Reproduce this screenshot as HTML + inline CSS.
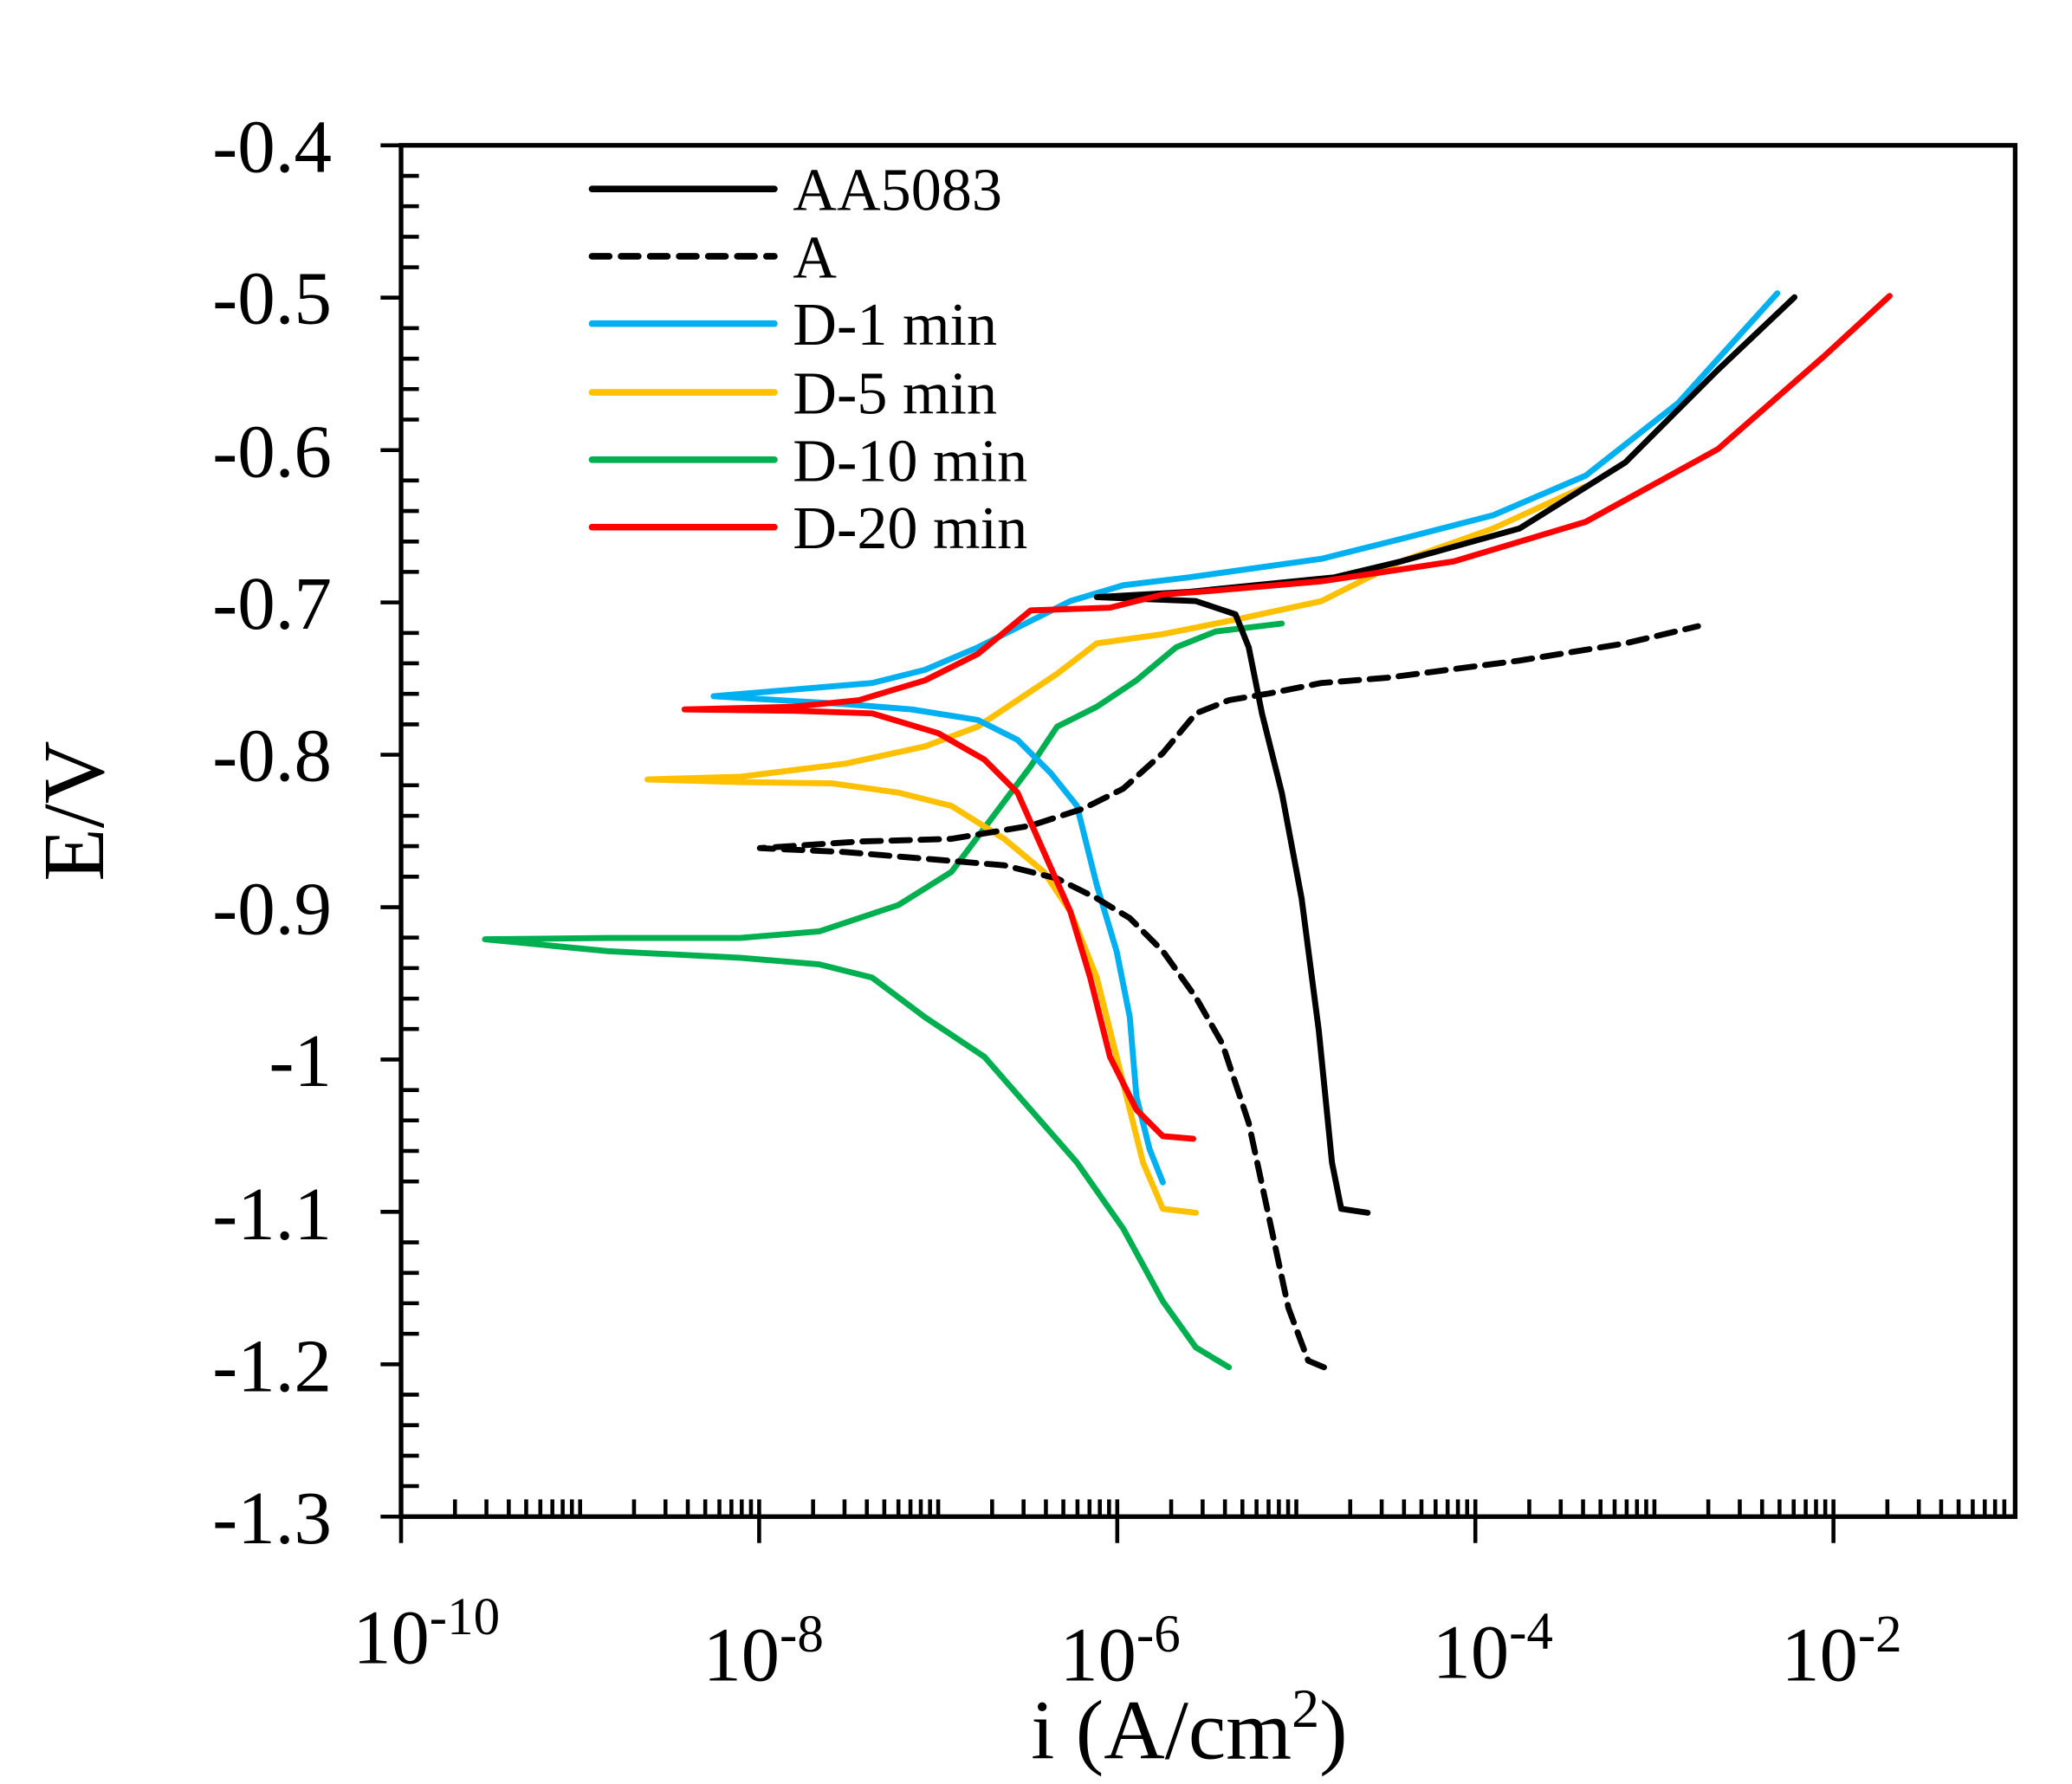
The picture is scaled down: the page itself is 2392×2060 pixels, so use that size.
<!DOCTYPE html>
<html><head><meta charset="utf-8"><style>
html,body{margin:0;padding:0;background:#fff;}
svg{display:block;}
text{font-family:"Liberation Serif",serif;fill:#000;}
</style></head><body>
<svg width="2392" height="2060" viewBox="0 0 1568 1350.4" xmlns="http://www.w3.org/2000/svg">
<rect x="0" y="0" width="1568" height="1351" fill="#fff"/>
<g stroke="#000" stroke-width="3">
<path d="M288 110H303M288 225.3H303M288 340.7H303M288 456H303M288 571.3H303M288 686.7H303M288 802H303M288 917.3H303M288 1032.7H303M288 1148H303"/>
<path d="M303 133.1H317M303 156.1H317M303 179.2H317M303 202.3H317M303 248.4H317M303 271.5H317M303 294.5H317M303 317.6H317M303 363.7H317M303 386.8H317M303 409.9H317M303 432.9H317M303 479.1H317M303 502.1H317M303 525.2H317M303 548.3H317M303 594.4H317M303 617.5H317M303 640.5H317M303 663.6H317M303 709.7H317M303 732.8H317M303 755.9H317M303 778.9H317M303 825.1H317M303 848.1H317M303 871.2H317M303 894.3H317M303 940.4H317M303 963.5H317M303 986.5H317M303 1009.6H317M303 1055.7H317M303 1078.8H317M303 1101.9H317M303 1124.9H317"/>
<path id="dec" d="M303.5 1135V1148M344.3 1135V1148M368.1 1135V1148M385 1135V1148M398.2 1135V1148M408.9 1135V1148M418 1135V1148M425.8 1135V1148M432.8 1135V1148"/>
<use href="#dec" x="135.5"/><use href="#dec" x="271"/><use href="#dec" x="406.5"/><use href="#dec" x="542"/>
<use href="#dec" x="677.5"/><use href="#dec" x="813"/><use href="#dec" x="948.5"/><use href="#dec" x="1084"/>
<path d="M303.5 1148V1168M574.5 1148V1168M845.5 1148V1168M1116.5 1148V1168M1387.5 1148V1168"/>
</g>
<rect x="303.5" y="110" width="1221.5" height="1038" fill="none" stroke="#000" stroke-width="3.5"/>
<g font-size="57" text-anchor="end">
<text x="251" y="130">-0.4</text>
<text x="251" y="245">-0.5</text>
<text x="251" y="361">-0.6</text>
<text x="251" y="476">-0.7</text>
<text x="251" y="591">-0.8</text>
<text x="251" y="707">-0.9</text>
<text x="251" y="822">-1</text>
<text x="251" y="938">-1.1</text>
<text x="251" y="1053">-1.2</text>
<text x="251" y="1168">-1.3</text>
</g>
<g font-size="58">
<text x="267" y="1259">10<tspan font-size="40" dy="-22">-10</tspan></text>
<text x="532" y="1272">10<tspan font-size="40" dy="-22">-8</tspan></text>
<text x="802" y="1272">10<tspan font-size="40" dy="-22">-6</tspan></text>
<text x="1084" y="1270">10<tspan font-size="40" dy="-22">-4</tspan></text>
<text x="1348" y="1272">10<tspan font-size="40" dy="-22">-2</tspan></text>
</g>
<text x="900" y="1331" font-size="64" text-anchor="middle">i (A/cm<tspan font-size="42" dy="-24">2</tspan><tspan dy="24">)</tspan></text>
<text transform="translate(78,614) rotate(-90)" font-size="66" text-anchor="middle">E/V</text>
<g stroke-width="5" stroke-linecap="round">
<line x1="448" y1="143" x2="586" y2="143" stroke="#000"/>
<line x1="448" y1="194" x2="586" y2="194" stroke="#000" stroke-dasharray="13,9"/>
<line x1="448" y1="245" x2="586" y2="245" stroke="#00b0f0"/>
<line x1="448" y1="297" x2="586" y2="297" stroke="#ffc000"/>
<line x1="448" y1="348" x2="586" y2="348" stroke="#00b050"/>
<line x1="448" y1="399" x2="586" y2="399" stroke="#ff0000"/>
</g>
<g font-size="46">
<text x="600" y="159">AA5083</text>
<text x="600" y="210">A</text>
<text x="600" y="261">D-1 min</text>
<text x="600" y="313">D-5 min</text>
<text x="600" y="364">D-10 min</text>
<text x="600" y="415">D-20 min</text>
</g>
<g fill="none" stroke-width="4.5" stroke-linejoin="round" stroke-linecap="round">
<polyline stroke="#00b050" points="930,1035 905,1020 880,985 850,930 815,880 780,840 745,800 700,770 660,740 620,730 560,725 460,720 367,711 460,710 560,710 620,705 680,685 720,660 750,620 780,580 800,550 830,535 860,515 890,490 920,478 970,472"/>
<polyline stroke="#ffc000" points="905,918 880,915 865,880 850,820 830,740 810,690 790,660 760,635 720,610 680,600 630,593 560,592 490,590 560,588 640,578 700,565 740,550 770,530 800,510 830,487 880,480 940,468 1000,455 1060,425 1130,400 1200,368"/>
<polyline stroke="#00b0f0" points="880,895 870,870 860,830 855,770 845,720 830,670 815,610 795,585 770,560 740,545 690,537 640,533 590,530 540,527 600,522 660,517 700,507 740,490 780,470 810,455 850,443 900,437 1000,423 1060,408 1130,390 1200,360 1270,305 1345,222"/>
<polyline stroke="#000" points="1035,918 1015,915 1008,880 998,780 985,680 970,600 955,540 945,490 935,465 905,455 830,452 900,448 1010,437 1060,425 1150,400 1230,350 1300,280 1358,225"/>
<polyline stroke="#000" stroke-dasharray="14,8" points="1002,1035 990,1030 975,990 960,920 945,850 925,790 905,755 880,720 855,695 830,680 800,665 760,655 700,650 640,645 575,642 650,637 720,635 780,625 820,612 850,597 880,570 905,540 930,530 960,525 1000,517 1050,513 1150,500 1230,487 1285,474"/>
<polyline stroke="#ff0000" points="903,862 880,860 860,840 840,800 825,740 810,690 790,645 770,600 745,575 710,555 660,540 600,538 518,537 600,535 650,530 700,515 740,495 780,462 840,460 880,450 920,447 1000,440 1100,425 1200,395 1300,340 1380,270 1430,224"/>
</g>
</svg>
</body></html>
